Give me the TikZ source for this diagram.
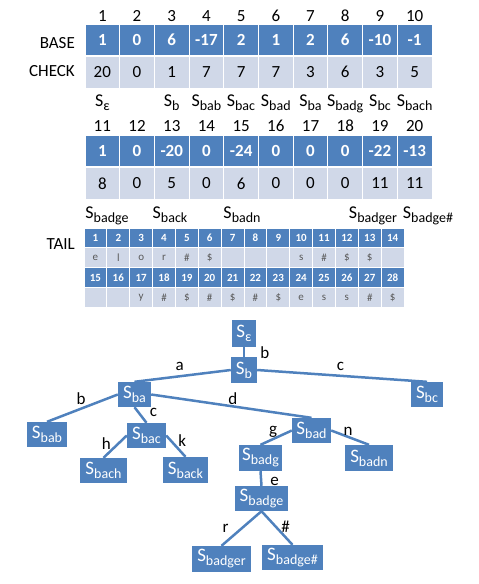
\documentclass[tikz,border=0pt]{standalone}
\usepackage{fontspec}
\setmainfont{Carlito}
\usepackage{tikz}
\usetikzlibrary{positioning,calc}
\definecolor{daBlue}{HTML}{4F81BD}
\definecolor{daGrey}{HTML}{D0D8E8}
\definecolor{daText}{HTML}{595959}
\newcommand{\Ssub}[1]{S\raisebox{-4pt}{\fontsize{14}{14}\selectfont #1}}
\tikzset{
  cell/.style={draw=white, line width=1pt, inner sep=0pt, minimum width=34.7pt},
  basecell/.style={cell, fill=daBlue, minimum height=31pt, text=white,
    font=\fontsize{17}{18}\selectfont\bfseries},
  checkcell/.style={cell, fill=daGrey, minimum height=32pt,
    font=\fontsize{17}{18}\selectfont},
  idx/.style={anchor=base, inner sep=0pt, font=\fontsize{17}{18}\selectfont},
  rowlab/.style={anchor=base east, inner sep=0pt, font=\fontsize{17}{18}\selectfont},
  statelab/.style={anchor=base, inner sep=0pt, font=\fontsize{18}{20}\selectfont},
  tailhead/.style={draw=white, line width=0.8pt, fill=daBlue, minimum width=22.86pt,
    minimum height=19.5pt, inner sep=0pt, text=white, font=\fontsize{11}{12}\selectfont\bfseries},
  tailcell/.style={tailhead, fill=daGrey, text=daText, font=\fontsize{11}{12}\selectfont},
  trie/.style={fill=daBlue, text=white, inner sep=0pt, font=\fontsize{19}{20}\selectfont},
  trieedge/.style={draw=daBlue, line width=2.5pt},
  elabel/.style={inner sep=0pt, font=\fontsize{17}{18}\selectfont}
}

\begin{document}
\begin{tikzpicture}[x=1pt, y=-1pt]
  \useasboundingbox (0,0) rectangle (479,584);

  % BASE / CHECK, states 1-10
  \node[rowlab] (baselab) at (75,48) {BASE};
  \node[rowlab] (checklab) at (75,76) {CHECK};
  \foreach \i in {1,...,10}
    \node[idx] (n\i) at ({85+(\i-0.5)*34.7},21) {\i};
  \foreach \b [count=\i] in {1,0,6,-17,2,1,2,6,-10,-1}
    \node[basecell] (base\i) at ({85+(\i-0.5)*34.7},39.5) {\b};
  \foreach \c [count=\i] in {20,0,1,7,7,7,3,6,3,5}
    \node[checkcell] (check\i) at ({85+(\i-0.5)*34.7},72) {\c};
  \foreach \x/\s [count=\i] in {102.4/ε,171.7/b,206.4/bab,241/bac,275.8/bad,310.5/ba,345.2/badg,380/bc,414.6/bach}
    \node[statelab] (st\i) at (\x,106) {\Ssub{\s}};

  % BASE / CHECK, states 11-20
  \foreach \i in {11,...,20}
    \node[idx] (n\i) at ({85+(\i-10.5)*34.7},131) {\i};
  \foreach \b [count=\i from 11] in {1,0,-20,0,-24,0,0,0,-22,-13}
    \node[basecell] (base\i) at ({85+(\i-10.5)*34.7},151) {\b};
  \foreach \c [count=\i from 11] in {8,0,5,0,6,0,0,0,11,11}
    \node[checkcell] (check\i) at ({85+(\i-10.5)*34.7},183.5) {\c};
  \foreach \x/\s [count=\i from 10] in {107/badge,170/back,242/badn,373/badger,428/badge\#}
    \node[statelab] (st\i) at (\x,218) {\Ssub{\s}};

  % TAIL
  \node[rowlab] (taillab) at (75,249) {TAIL};
  \foreach \i in {1,...,14}
    \node[tailhead] (th\i) at ({84+(\i-0.5)*22.86},238) {\i};
  \foreach \c [count=\i] in {e,l,o,r,\#,\$,{},{},{},s,\#,\$,\$,{}}
    \node[tailcell] (tc\i) at ({84+(\i-0.5)*22.86},257.5) {\c};
  \foreach \i in {15,...,28}
    \node[tailhead] (th\i) at ({84+(\i-14.5)*22.86},277.5) {\i};
  \foreach \c [count=\i from 15] in {{},{},y,\#,\$,\#,\$,\#,\$,e,s,s,\#,\$}
    \node[tailcell] (tc\i) at ({84+(\i-14.5)*22.86},297.5) {\c};

  % trie
  \node[trie, minimum width=24pt, minimum height=27pt] (se) at (244,333.5) {\Ssub{ε}};
  \node[trie, minimum width=26pt, minimum height=26pt] (sb) at (244,370) {\Ssub{b}};
  \node[trie, minimum width=33pt, minimum height=25pt] (sba) at (134.5,394.5) {\Ssub{ba}};
  \node[trie, minimum width=32pt, minimum height=25pt] (sbc) at (427,394.5) {\Ssub{bc}};
  \node[trie, minimum width=40pt, minimum height=25pt] (sbab) at (47,434.5) {\Ssub{bab}};
  \node[trie, minimum width=39pt, minimum height=25pt] (sbac) at (146.5,435.5) {\Ssub{bac}};
  \node[trie, minimum width=39pt, minimum height=25pt] (sbad) at (311.5,430.5) {\Ssub{bad}};
  \node[trie, minimum width=47pt, minimum height=25pt] (sbach) at (103.5,470.5) {\Ssub{bach}};
  \node[trie, minimum width=45pt, minimum height=26pt] (sback) at (185.5,470) {\Ssub{back}};
  \node[trie, minimum width=43pt, minimum height=26pt] (sbadg) at (260.5,458) {\Ssub{badg}};
  \node[trie, minimum width=48pt, minimum height=26pt] (sbadn) at (369,458) {\Ssub{badn}};
  \node[trie, minimum width=53pt, minimum height=25pt] (sbadge) at (261.5,498.5) {\Ssub{badge}};
  \node[trie, minimum width=59pt, minimum height=26pt] (sbadger) at (221.5,559) {\Ssub{badger}};
  \node[trie, minimum width=61pt, minimum height=25pt] (sbadgeh) at (292.5,557.5) {\Ssub{badge\#}};

  \draw[trieedge] (se.south) -- node[elabel, pos=.6, right=15pt] {b} (sb.north);
  \draw[trieedge] (sb.west) -- node[elabel, pos=.53, above=4.5pt] {a} (sba.north);
  \draw[trieedge] (sb.east) -- node[elabel, pos=.49, above=4pt] {c} (sbc.north);
  \draw[trieedge] (sba.west) -- node[elabel, pos=.52, above=3pt] {b} (sbab.north);
  \draw[trieedge] (sba.south) -- node[elabel, pos=.35, right=10pt] {c} (sbac.north);
  \draw[trieedge] (sba.east) -- node[elabel, pos=.51, above=1pt] {d} (sbad.north);
  \draw[trieedge] (sbac.west) -- node[elabel, pos=.38, left=6pt] {h} (sbach.north);
  \draw[trieedge] (sbac.east) -- node[elabel, pos=.25, right=6pt] {k} (sback.north);
  \draw[trieedge] (sbad.west) -- node[elabel, pos=.6, above=0pt] {g} (sbadg.north);
  \draw[trieedge] (sbad.east) -- node[elabel, pos=.45, above=0.5pt] {n} (sbadn.north);
  \draw[trieedge] (sbadg.south) -- node[elabel, pos=.67, right=8pt] {e} (sbadge.north);
  \draw[trieedge] (sbadge.south) -- node[elabel, pos=.49, left=12pt] {r} (sbadger.north);
  \draw[trieedge] (sbadge.south) -- node[elabel, pos=.47, right=4pt] {\#} (sbadgeh.north);
\end{tikzpicture}
\end{document}
